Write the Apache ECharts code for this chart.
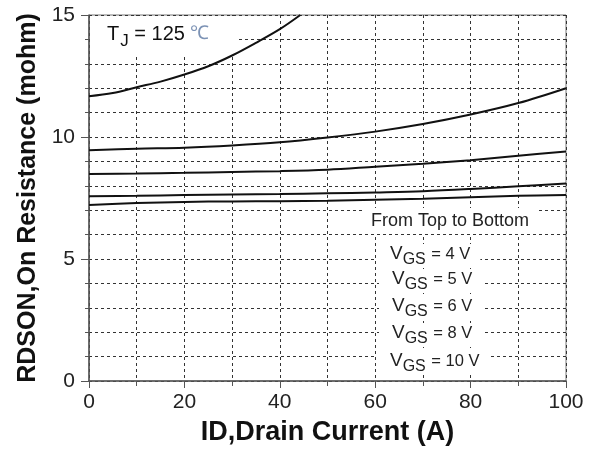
<!DOCTYPE html>
<html>
<head>
<meta charset="utf-8">
<script src="https://cdn.jsdelivr.net/npm/echarts@6/dist/echarts.min.js"></script>
<style>html,body{margin:0;padding:0;background:#fff}#c{width:590px;height:451px}</style>
</head>
<body>
<div id="c"></div>
<script>
var xTicks = [0, 20, 40, 60, 80, 100];
var yTicks = [0, 5, 10, 15];
var vgs4x = [0, 5, 10, 15, 20, 25, 30, 35, 40, 44.3];
var vgs4y = [11.67, 11.8, 12.04, 12.27, 12.56, 12.9, 13.34, 13.86, 14.42, 15.0];
var xs = [0, 10, 20, 30, 40, 50, 60, 70, 80, 90, 100];
var vgs5 = [9.46, 9.52, 9.56, 9.65, 9.78, 9.98, 10.22, 10.53, 10.92, 11.39, 12.0];
var vgs6 = [8.48, 8.5, 8.53, 8.57, 8.6, 8.66, 8.78, 8.9, 9.05, 9.23, 9.41];
var vgs8 = [7.57, 7.59, 7.62, 7.64, 7.66, 7.69, 7.73, 7.78, 7.87, 7.98, 8.09];
var vgs10 = [7.21, 7.29, 7.34, 7.36, 7.37, 7.39, 7.43, 7.47, 7.53, 7.59, 7.62];
var legendLines = ['4', '5', '6', '8', '10'];

function pairs(x, y) { return x.map(function (v, i) { return [v, y[i]]; }); }
function line(data) {
  return { type: 'line', data: data, smooth: 0.35, showSymbol: false, clip: true,
    lineStyle: { color: '#111', width: 2 }, z: 3 };
}
var chart = echarts.init(document.getElementById('c'));
var font = 'Liberation Sans, Arial, sans-serif';
var dash = { color: '#333', width: 1, type: [3, 3] };
var graphics = [];
graphics.push({
  type: 'rect', z: 1, shape: { x: 90, y: 16, width: 146, height: 40 },
  style: { fill: '#fff' }, silent: true
});
graphics.push({
  type: 'text', left: 107, top: 24, z: 10,
  style: {
    text: '{v|T}{s|J}{v| = 125 }{c|℃}', fontFamily: font,
    rich: {
      v: { fontSize: 20, fill: '#111', lineHeight: 26, verticalAlign: 'top' },
      s: { fontSize: 17, fill: '#111', padding: [9, 0, 0, 1], lineHeight: 26, verticalAlign: 'top' },
      c: { fontSize: 19, fill: '#7d93b5', lineHeight: 26, verticalAlign: 'top' }
    }
  }
});
graphics.push({
  type: 'text', left: 362, top: 208, z: 10,
  style: { text: 'From Top to Bottom', fontFamily: font, fontSize: 18, fill: '#222',
    backgroundColor: '#fff', padding: [4, 9, 4, 9] }
});
var tops = [244, 269, 296, 323, 351];
var lefts = [377, 379, 379, 379, 377];
legendLines.forEach(function (v, i) {
  graphics.push({
    type: 'text', left: lefts[i], top: tops[i], z: 10,
    style: {
      text: '{v|V}{s|GS}{r| = ' + v + ' V}', fontFamily: font,
      backgroundColor: '#fff', padding: [0, 10, 0, 13],
      rich: {
        v: { fontSize: 19, fill: '#222', lineHeight: 24, verticalAlign: 'top', backgroundColor: '#fff' },
        s: { fontSize: 16, fill: '#222', padding: [8, 1, 0, 0], lineHeight: 24, verticalAlign: 'top', backgroundColor: '#fff' },
        r: { fontSize: 16.5, fill: '#222', padding: [2, 0, 0, 0], lineHeight: 24, verticalAlign: 'top', backgroundColor: '#fff' }
      }
    }
  });
});
chart.setOption({
  animation: false,
  grid: { left: 89, right: 24, top: 15, bottom: 69, show: true, borderColor: '#777', borderWidth: 1 },
  xAxis: {
    type: 'value', min: xTicks[0], max: xTicks[xTicks.length - 1], interval: 20,
    name: 'ID,Drain Current (A)', nameLocation: 'middle', nameGap: 38,
    nameTextStyle: { fontFamily: font, fontSize: 27, fontWeight: 'bold', color: '#111' },
    axisLine: { show: true, lineStyle: { color: '#555', width: 1.5 } },
    axisTick: { show: true, length: 7, lineStyle: { color: '#555' } },
    minorTick: { show: true, splitNumber: 2, length: 5, lineStyle: { color: '#555' } },
    axisLabel: { fontFamily: font, fontSize: 21, color: '#222', margin: 11 },
    splitLine: { show: true, lineStyle: dash },
    minorSplitLine: { show: true, lineStyle: dash }
  },
  yAxis: {
    type: 'value', min: yTicks[0], max: yTicks[yTicks.length - 1], interval: 5,
    name: 'RDSON,On Resistance (mohm)', nameLocation: 'middle', nameGap: 48,
    nameTextStyle: { fontFamily: font, fontSize: 25, fontWeight: 'bold', color: '#111' },
    axisLine: { show: true, lineStyle: { color: '#555', width: 1.5 } },
    axisTick: { show: true, length: 8, lineStyle: { color: '#555' } },
    minorTick: { show: true, splitNumber: 5, length: 4, lineStyle: { color: '#555' } },
    axisLabel: { fontFamily: font, fontSize: 21, color: '#222', margin: 14 },
    splitLine: { show: true, lineStyle: dash },
    minorSplitLine: { show: true, lineStyle: dash }
  },
  series: [
    line(pairs(vgs4x, vgs4y)),
    line(pairs(xs, vgs5)),
    line(pairs(xs, vgs6)),
    line(pairs(xs, vgs8)),
    line(pairs(xs, vgs10))
  ],
  graphic: graphics
});
</script>
</body>
</html>
